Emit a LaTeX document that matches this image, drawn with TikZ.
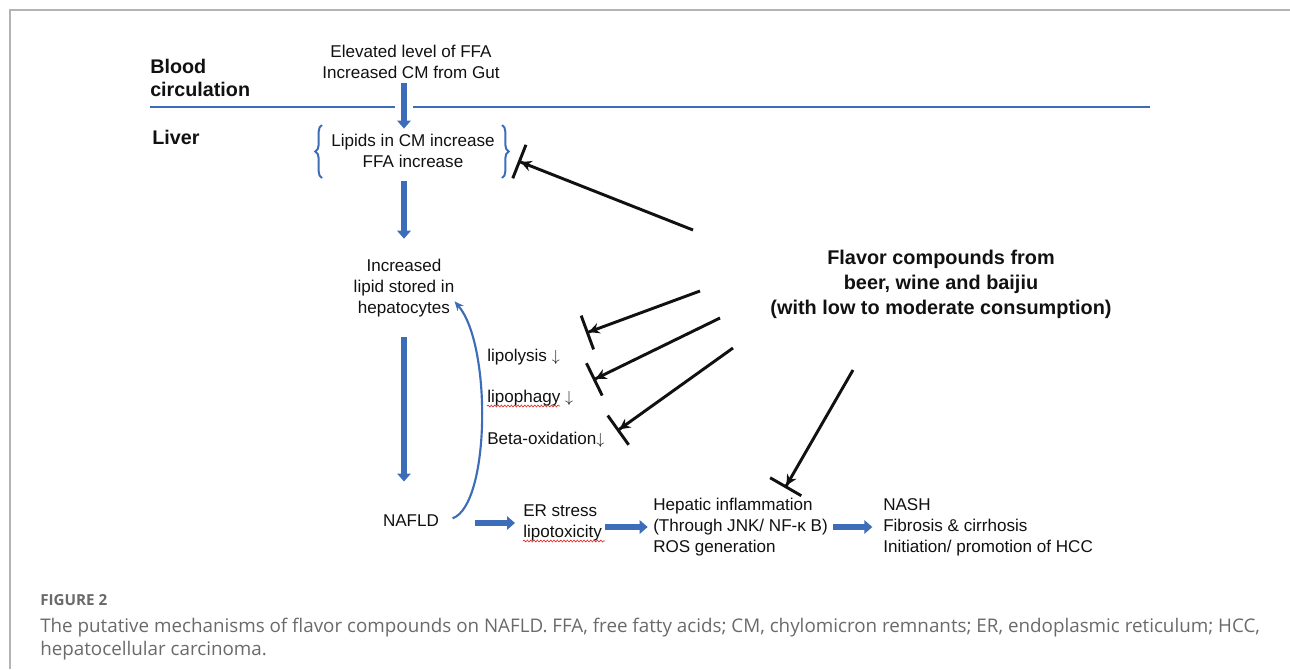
\documentclass[tikz,border=0pt]{standalone}
\usepackage{fontspec}
\setmainfont{Liberation Sans}
\newfontfamily\capfont{Open Sans}
\usetikzlibrary{arrows.meta, positioning, decorations.pathreplacing,
                decorations.pathmorphing}
\definecolor{Route}    {HTML}{3D6CB9}
\definecolor{Ink}      {HTML}{111111}
\definecolor{FrameGrey}{HTML}{B4B4B4}
\definecolor{CapGrey}  {HTML}{6A6A6A}
\definecolor{SpellRed} {HTML}{E0302A}

\begin{document}
\begin{tikzpicture}[x=0.75pt, y=-0.75pt,
    font=\fontsize{12.8}{15.8}\selectfont, text=Ink,
    txt/.style={inner sep=0pt, align=center},
    side/.style={inner sep=0pt, anchor=west, align=left,
                 font=\fontsize{14.8}{17.3}\selectfont\bfseries},
    route/.style={draw=Route, line width=4pt,
                  -{Triangle[length=6pt, width=10pt]}},
    block/.style={inner sep=0pt, anchor=west, align=left},
    inhibit/.style={draw=Ink, line width=2.2pt,
                    -{Stealth[length=8pt, width=8pt] Bar[width=27pt]}},
    squiggle/.style={draw=SpellRed, line width=0.5pt,
                     decorate, decoration={snake, amplitude=0.7pt, segment length=2.5pt}}]
  \useasboundingbox (0,0) rectangle (1290,669);
  % Frame
  \draw[FrameGrey, line width=1.5pt] (10,669) -- (10,10) -- (1290,10);
  % Blood / liver boundary
  \draw[Route, line width=2.2pt] (150,107) -- (395,107);
  \draw[Route, line width=2.2pt] (413,107) -- (1150,107);
  \node[side] (blood) at (150,78) {Blood\\circulation};
  \node[side] (liver) at (152,137) {Liver};
  % Main pathway
  \node[txt] (source) at (411,62) {Elevated level of FFA\\Increased CM from Gut};
  \node[txt] (lipids) at (413,151) {Lipids in CM increase\\FFA increase};
  \draw[Route, decorate, decoration={brace, amplitude=5pt}, line width=1.5pt]
    (322,178) -- (322,125);
  \draw[Route, decorate, decoration={brace, amplitude=5pt}, line width=1.5pt]
    (502,125) -- (502,178);
  \node[txt] (stored) at (404,288) {Increased\\lipid stored in\\hepatocytes};
  \node[txt] (nafld) at (411,521) {NAFLD};
  \node[block] (er) at (523,523) {ER stress\\lipotoxicity};
  \node[block] (hepatic) at (653,527)
    {Hepatic inflammation\\(Through JNK/ NF-κ B)\\ROS generation};
  \node[block] (nash) at (883,527)
    {NASH\\Fibrosis \& cirrhosis\\Initiation/ promotion of HCC};
  \draw[route, shorten <=3pt, shorten >=4pt]
    (stored |- source.south) -- (stored |- lipids.north);
  \draw[route, shorten <=10pt, shorten >=15pt]
    (stored |- lipids.south) -- (stored.north);
  \draw[route, shorten <=15pt, shorten >=25pt]
    (stored.south) -- (stored |- nafld.north);
  \draw[route, shorten <=27pt, shorten >=6pt] (nafld.east |- er) -- (er.west);
  \draw[route, shorten <=2pt, shorten >=4pt] (er.east |- hepatic) -- (hepatic.west);
  \draw[route, shorten <=4pt, shorten >=8pt] (hepatic.east) -- (nash.west);
  % Feedback loop
  \draw[Route, line width=1.6pt, -{Stealth[length=7pt, width=6pt]}]
    ([xshift=10pt, yshift=2pt]nafld.east) .. controls (490,505) and (492,345)
    .. ([xshift=0pt, yshift=-10pt]stored.east);
  % Impaired lipid removal
  \node[block] (lipolysis) at (487,357) {lipolysis $\downarrow$};
  \node[block] (lipophagy) at (487,398) {lipophagy $\downarrow$};
  \node[block] (betaox) at (487,440) {Beta-oxidation$\downarrow$};
  \draw[squiggle] (487,406) -- (560,406);
  \draw[squiggle] (523,541) -- (605,541);
  % Flavor compounds and their inhibitions
  \node[txt, font=\fontsize{14.9}{18.8}\selectfont\bfseries] (flavor) at (941,284)
    {Flavor compounds from\\beer, wine and baijiu\\(with low to moderate consumption)};
  \coordinate (f1) at (693,230);  \coordinate (t1) at (518,161);
  \coordinate (f2) at (700,291);  \coordinate (t2) at (586,333);
  \coordinate (f3) at (720,318);  \coordinate (t3) at (593,380);
  \coordinate (f4) at (733,348);  \coordinate (t4) at (617,431);
  \coordinate (f5) at (853,370);  \coordinate (t5) at (785,488);
  \foreach \i in {1,...,5}
    \draw[inhibit] (f\i) -- (t\i);
  % Caption
  \node[inner sep=0pt, anchor=west, text=CapGrey,
        font=\capfont\fontsize{11.4}{13}\selectfont\bfseries] (figno) at (40,600) {FIGURE 2};
  \node[inner sep=0pt, anchor=north west, align=left, text=CapGrey,
        font=\capfont\fontsize{14.1}{17.3}\selectfont] (caption) at (40,618)
    {The putative mechanisms of flavor compounds on NAFLD. FFA, free fatty acids; CM, chylomicron remnants; ER, endoplasmic reticulum; HCC,\\hepatocellular carcinoma.};
\end{tikzpicture}
\end{document}
